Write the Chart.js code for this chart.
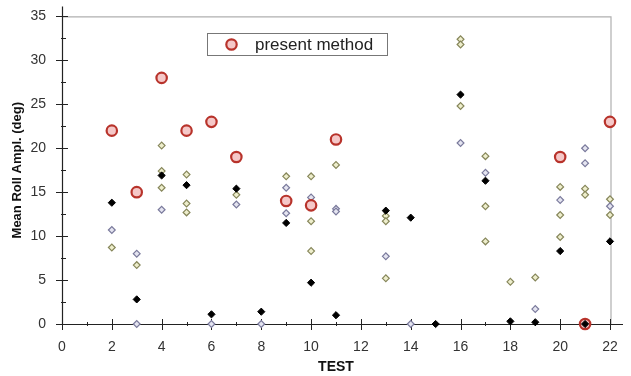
<!DOCTYPE html>
<html>
<head>
<meta charset="utf-8">
<script src="https://cdn.jsdelivr.net/npm/chart.js@4.4.1/dist/chart.umd.min.js"></script>
<style>
  html, body { margin: 0; padding: 0; background: #fff; }
  #wrap { width: 631px; height: 376px; }
</style>
</head>
<body>
<div id="wrap"><canvas id="c" width="631" height="376"></canvas></div>
<script>
// Mean roll amplitude per test
const presentTests = [2, 3, 4, 5, 6, 7, 9, 10, 11, 20, 21, 22];
const presentRoll  = [22, 15, 28, 22, 23, 19, 14, 13.5, 21, 19, 0, 23];

const blackTests = [2, 3, 4, 5, 6, 7, 8, 9, 10, 11, 13, 14, 15, 16, 17, 18, 19, 20, 21, 22];
const blackRoll  = [13.8, 2.8, 16.9, 15.8, 1.1, 15.4, 1.4, 11.5, 4.7, 1.0, 12.9, 12.1, 0, 26.1, 16.3, 0.3, 0.2, 8.3, 0, 9.4];

const oliveTests = [2, 3, 4, 4, 4, 5, 5, 5, 7, 9, 10, 10, 10, 11, 13, 13, 13, 16, 16, 16, 17, 17, 17, 18, 19, 20, 20, 20, 21, 21, 22, 22];
const oliveRoll  = [8.7, 6.7, 20.3, 17.4, 15.5, 17.0, 13.7, 12.7, 14.7, 16.8, 16.8, 11.7, 8.3, 18.1, 12.3, 11.7, 5.2, 32.4, 31.8, 24.8, 19.1, 13.4, 9.4, 4.8, 5.3, 15.6, 12.4, 9.9, 15.4, 14.7, 14.2, 12.4];

const grayTests = [2, 3, 3, 4, 6, 7, 8, 9, 9, 10, 11, 11, 13, 14, 16, 17, 19, 20, 21, 21, 22];
const grayRoll  = [10.7, 8.0, 0, 13.0, 0, 13.6, 0, 15.5, 12.6, 14.4, 13.1, 12.8, 7.7, 0, 20.6, 17.2, 1.7, 14.1, 20.0, 18.3, 13.4];

const xTickStep = 2;
const yTickStep = 5;
const legendLabel = 'present method';

const pts = (xs, ys) => xs.map((x, i) => ({ x: x, y: ys[i] }));
const FONT = 'Arial, "Liberation Sans", sans-serif';

// Axis lines, crossing tick marks, frame and the boxed legend
const framePlugin = {
  id: 'frame',
  beforeDatasetsDraw(chart) {
    const { ctx, chartArea: a, scales: { x, y } } = chart;
    ctx.save();
    // light frame on top and right
    ctx.strokeStyle = '#b0b0b0';
    ctx.lineWidth = 1.2;
    ctx.beginPath();
    ctx.moveTo(a.left, a.top + 0.5);
    ctx.lineTo(a.right + 1, a.top + 0.5);
    ctx.lineTo(a.right + 1, a.bottom);
    ctx.stroke();

    ctx.strokeStyle = '#222';
    ctx.lineWidth = 1.2;
    // y axis
    ctx.beginPath();
    ctx.moveTo(a.left + 0.5, a.top - 10);
    ctx.lineTo(a.left + 0.5, a.bottom + 1);
    ctx.stroke();
    // x axis
    ctx.beginPath();
    ctx.moveTo(a.left, a.bottom + 0.5);
    ctx.lineTo(a.right + 13, a.bottom + 0.5);
    ctx.stroke();

    ctx.lineWidth = 1;
    // y ticks: major cross the axis, minor inside
    for (let v = y.min; v <= y.max + 1e-9; v += yTickStep / 2) {
      const py = Math.round(y.getPixelForValue(v)) + 0.5;
      const major = Math.abs(v / yTickStep - Math.round(v / yTickStep)) < 1e-6;
      ctx.beginPath();
      ctx.moveTo(a.left - (major ? 6 : 1), py);
      ctx.lineTo(a.left + (major ? 6 : 4), py);
      ctx.stroke();
    }
    // x ticks
    for (let v = x.min; v <= x.max + 1e-9; v += xTickStep / 2) {
      const px = Math.round(x.getPixelForValue(v)) + 0.5;
      const major = Math.abs(v / xTickStep - Math.round(v / xTickStep)) < 1e-6;
      ctx.beginPath();
      ctx.moveTo(px, a.bottom - (major ? 5 : 2));
      ctx.lineTo(px, a.bottom + (major ? 6 : 2));
      ctx.stroke();
    }
    ctx.restore();
  },
  afterDraw(chart) {
    const { ctx } = chart;
    const style = chart.data.datasets[1];
    ctx.save();
    // legend box
    const bx = 207.5, by = 33.5, bw = 180, bh = 22;
    ctx.fillStyle = '#fff';
    ctx.fillRect(bx, by, bw, bh);
    ctx.strokeStyle = '#777';
    ctx.lineWidth = 1;
    ctx.strokeRect(bx, by, bw, bh);
    // legend marker
    ctx.beginPath();
    ctx.arc(231.5, 44.5, style.pointRadius, 0, Math.PI * 2);
    ctx.fillStyle = style.pointBackgroundColor;
    ctx.fill();
    ctx.lineWidth = style.pointBorderWidth;
    ctx.strokeStyle = style.pointBorderColor;
    ctx.stroke();
    // legend text
    ctx.fillStyle = '#222';
    ctx.font = '17px ' + FONT;
    ctx.textBaseline = 'middle';
    ctx.textAlign = 'left';
    ctx.fillText(legendLabel, 255, 45);
    ctx.restore();
  }
};

new Chart(document.getElementById('c'), {
  type: 'scatter',
  data: {
    datasets: [
      {
        label: 'black',
        data: pts(blackTests, blackRoll),
        pointStyle: 'rectRot',
        pointRadius: 3.6,
        pointBackgroundColor: '#000',
        pointBorderColor: '#000',
        pointBorderWidth: 1,
        clip: false
      },
      {
        label: legendLabel,
        data: pts(presentTests, presentRoll),
        pointStyle: 'circle',
        pointRadius: 5.2,
        pointBackgroundColor: '#f5c8c8',
        pointBorderColor: '#b8332b',
        pointBorderWidth: 2.2,
        clip: false
      },
      {
        label: 'gray',
        data: pts(grayTests, grayRoll),
        pointStyle: 'rectRot',
        pointRadius: 3.4,
        pointBackgroundColor: '#e4e4f0',
        pointBorderColor: '#7a7a9c',
        pointBorderWidth: 1.2,
        clip: false
      },
      {
        label: 'olive',
        data: pts(oliveTests, oliveRoll),
        pointStyle: 'rectRot',
        pointRadius: 3.4,
        pointBackgroundColor: '#eeeecc',
        pointBorderColor: '#86865a',
        pointBorderWidth: 1.2,
        clip: false
      }
    ]
  },
  options: {
    responsive: false,
    animation: false,
    events: [],
    layout: { padding: { top: 14, right: 21, left: 0, bottom: 0 } },
    plugins: {
      legend: { display: false },
      tooltip: { enabled: false }
    },
    scales: {
      x: {
        type: 'linear',
        min: 0,
        max: 22,
        grid: { display: false },
        border: { display: false },
        ticks: { stepSize: xTickStep, padding: 7, color: '#333', font: { family: FONT, size: 14 } },
        title: { display: true, text: 'TEST', color: '#111', padding: { top: 0, bottom: 0 }, font: { family: FONT, size: 14, weight: 'bold' } },
        afterFit(scale) { scale.height = 52; }
      },
      y: {
        type: 'linear',
        min: 0,
        max: 35,
        grid: { display: false },
        border: { display: false },
        ticks: { stepSize: yTickStep, padding: 8, color: '#333', font: { family: FONT, size: 14 } },
        title: { display: true, text: 'Mean Roll Ampl. (deg)', color: '#111', padding: { top: 10, bottom: 0 }, font: { family: FONT, size: 13, weight: 'bold' } },
        afterFit(scale) { scale.width = 62; }
      }
    }
  },
  plugins: [framePlugin]
});
</script>
</body>
</html>
